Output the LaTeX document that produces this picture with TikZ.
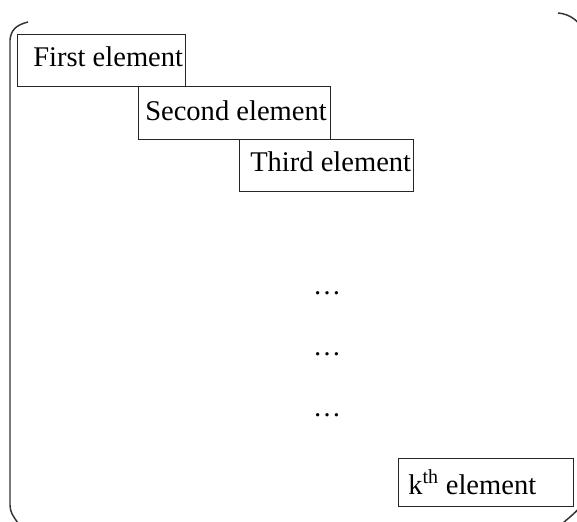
\documentclass[tikz,border=0pt]{standalone}
\usepackage{fontspec}
\setmainfont{Liberation Serif}
\begin{document}
\begin{tikzpicture}[x=0.75pt,y=-0.75pt,
  cell/.style={draw=black!85, line width=1.1pt, rectangle, inner sep=0pt, anchor=north west},
  label/.style={anchor=base west, inner sep=0pt, font=\fontsize{21.4}{25}\selectfont},
  gap/.style={anchor=base, inner sep=0pt, font=\fontsize{21}{25}\selectfont},
  brace/.style={draw=black!80, line width=1.1pt}]
\useasboundingbox (0,0) rectangle (577,521);
\begin{scope}
\clip (0,0) rectangle (577,521);
% enclosing brackets
\draw[brace] (28,22) .. controls (16,25) and (11,30) .. (10,40) -- (10,505)
  .. controls (10,512) and (13,516) .. (18,523);
\draw[brace] (558,13) .. controls (570,14) and (580,21) .. (585,34) -- (585,498)
  .. controls (582,508) and (572,515) .. (563,523);
\end{scope}
% element boxes
\node[cell, minimum width=126pt, minimum height=39pt] (b1) at (17,34) {};
\node[cell, minimum width=144pt, minimum height=39.75pt] (b2) at (138,86) {};
\node[cell, minimum width=130.5pt, minimum height=39pt] (b3) at (239,139) {};
\node[cell, minimum width=131.25pt, minimum height=36pt] (bk) at (398,458) {};
% element names
\node[label] (t1) at (33,66) {First element};
\node[label] (t2) at (145,120) {Second element};
\node[label] (t3) at (250,171) {Third element};
\node[label] (tk) at (408,494) {k\textsuperscript{th} element};
% omitted elements
\node[gap] (d1) at (327,294) {…};
\node[gap] (d2) at (327,355) {…};
\node[gap] (d3) at (327,416) {…};
\end{tikzpicture}
\end{document}
